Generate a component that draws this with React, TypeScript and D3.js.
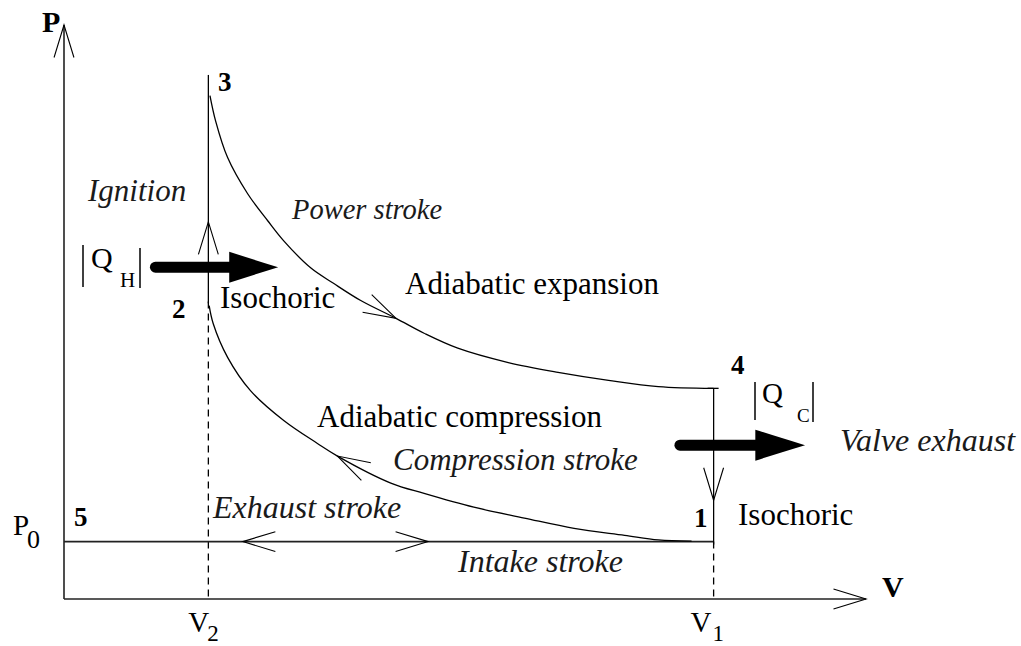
import React from "react";
import * as d3 from "d3";

const W = 1021;
const H = 646;

// Cycle state values (arbitrary units, 0–100 on both axes)
const V2 = 18;
const V1 = 81;
const P0 = 10;
const P3_TOP = 91.3;
const P2 = 51.5;
const P4 = 36.7;

// Adiabatic expansion 3 -> 4
const expansionV = [18.2, 18.9, 20.4, 22.9, 25.4, 27.4, 30.75, 33.6, 37.0, 41.4, 44.9, 49.1, 55.4, 61.6, 67.9, 74.1, 81];
const expansionP = [87.7, 83.3, 76.9, 70.6, 65.9, 62.4, 57.7, 55.0, 52.0, 48.9, 46.3, 43.7, 41.2, 39.5, 38.1, 37.0, 36.7];

// Adiabatic compression 1 -> 2
const compressionV = [18.1, 18.6, 20.4, 23.25, 27.4, 31.6, 34.1, 40.75, 44.9, 51.1, 57.4, 63.6, 69.9, 74.1, 78.25];
const compressionP = [51.1, 48.0, 42.1, 36.3, 31.1, 27.1, 24.9, 20.2, 18.4, 16.0, 14.1, 12.3, 11.1, 10.3, 10.1];

// Arrow positions along straight segments
const ARROW_23_P = 65.7;
const ARROW_41_P = 17.2;
const EXHAUST_ARROW_V = 22.3;
const INTAKE_ARROW_V = 45.4;

const SERIF = "Liberation Serif";

function openArrow(tx: number, ty: number, ang: number, len = 34, half = (17 * Math.PI) / 180) {
  const a1 = ang + Math.PI - half;
  const a2 = ang + Math.PI + half;
  const x1 = tx + len * Math.cos(a1);
  const y1 = ty + len * Math.sin(a1);
  const x2 = tx + len * Math.cos(a2);
  const y2 = ty + len * Math.sin(a2);
  return `M${x1},${y1}L${tx},${ty}L${x2},${y2}`;
}

type TP = { x: number; y: number; size: number; children: React.ReactNode; weight?: number; italic?: boolean; fill?: string };
function T({ x, y, size, children, weight, italic, fill }: TP) {
  return (
    <text
      x={x}
      y={y}
      fontFamily={SERIF}
      fontSize={size}
      fontWeight={weight || 400}
      fontStyle={italic ? "italic" : "normal"}
      fill={fill || "#000"}
    >
      {children}
    </text>
  );
}

export default function App() {
  const x = d3.scaleLinear().domain([0, 100]).range([64, 866]);
  const y = d3.scaleLinear().domain([0, 100]).range([599, 25]);

  const line = d3
    .line<[number, number]>()
    .x((d) => x(d[0]))
    .y((d) => y(d[1]))
    .curve(d3.curveCatmullRom.alpha(0.5));

  const expPts: [number, number][] = expansionV.map((v, i) => [v, expansionP[i]]);
  const cmpPts: [number, number][] = compressionV.map((v, i) => [v, compressionP[i]]);

  const ei = 9;
  const eAng = Math.atan2(
    y(expansionP[ei + 1]) - y(expansionP[ei - 1]),
    x(expansionV[ei + 1]) - x(expansionV[ei - 1])
  );
  const ci = 6;
  const cAng = Math.atan2(
    y(compressionP[ci - 1]) - y(compressionP[ci + 1]),
    x(compressionV[ci - 1]) - x(compressionV[ci + 1])
  );

  const RG = 31; // regular size
  const BD = 27; // bold numbers
  const itFill = "#1a1a1a";

  const heatArrow = (v0: number, vHead: number, vTip: number, p: number) => {
    const yy = y(p);
    return (
      <g>
        <line x1={x(v0)} y1={yy} x2={x(vHead) + 4} y2={yy} stroke="#000" strokeWidth={11} strokeLinecap="round" />
        <path
          d={`M${x(vHead)},${yy - 15.5} Q${x(vHead) + 20},${yy - 9} ${x(vTip)},${yy} Q${x(vHead) + 20},${yy + 9} ${x(vHead)},${yy + 15.5} Z`}
          fill="#000"
        />
      </g>
    );
  };

  return (
    <svg
      width={W}
      height={H}
      viewBox={`0 0 ${W} ${H}`}
      style={{ position: "absolute", left: 0, top: 0, background: "#fff" }}
    >
      <rect x={0} y={0} width={W} height={H} fill="#fff" />

      {/* axes */}
      <line x1={x(0)} y1={y(0)} x2={x(0)} y2={y(100)} stroke="#222" strokeWidth={1.6} />
      <line x1={x(0)} y1={y(0)} x2={x(100)} y2={y(0)} stroke="#222" strokeWidth={1.6} />
      <path d={openArrow(x(0), y(100), -Math.PI / 2)} fill="none" stroke="#000" strokeWidth={1.1} />
      <path d={openArrow(x(100), y(0), 0)} fill="none" stroke="#000" strokeWidth={1.1} />

      {/* dashed volume guides */}
      <line x1={x(V2)} y1={y(P2) - 2} x2={x(V2)} y2={y(0)} stroke="#000" strokeWidth={1.3} strokeDasharray="7,5" />
      <line x1={x(V1)} y1={y(P0)} x2={x(V1)} y2={y(0)} stroke="#000" strokeWidth={1.3} strokeDasharray="7,5" />

      {/* P0 line (intake / exhaust) */}
      <line x1={x(0)} y1={y(P0)} x2={x(V1)} y2={y(P0)} stroke="#222" strokeWidth={1.6} />
      <path d={openArrow(x(EXHAUST_ARROW_V), y(P0), Math.PI)} fill="none" stroke="#000" strokeWidth={1.1} />
      <path d={openArrow(x(INTAKE_ARROW_V), y(P0), 0)} fill="none" stroke="#000" strokeWidth={1.1} />

      {/* isochoric 2 -> 3 */}
      <line x1={x(V2)} y1={y(P3_TOP)} x2={x(V2)} y2={y(P2)} stroke="#000" strokeWidth={1.3} />
      <path d={openArrow(x(V2), y(ARROW_23_P), -Math.PI / 2)} fill="none" stroke="#000" strokeWidth={1.1} />

      {/* isochoric 4 -> 1 */}
      <line x1={x(V1)} y1={y(P4)} x2={x(V1)} y2={y(P0) + 3} stroke="#000" strokeWidth={1.3} />
      <line x1={x(V1) - 6} y1={y(P4)} x2={x(V1) + 5} y2={y(P4)} stroke="#000" strokeWidth={1.3} />
      <path d={openArrow(x(V1), y(ARROW_41_P), Math.PI / 2)} fill="none" stroke="#000" strokeWidth={1.1} />

      {/* adiabats */}
      <path d={line(expPts) || ""} fill="none" stroke="#000" strokeWidth={1.3} />
      <path d={line(cmpPts) || ""} fill="none" stroke="#000" strokeWidth={1.3} />
      <path d={openArrow(x(expansionV[ei]), y(expansionP[ei]), eAng)} fill="none" stroke="#000" strokeWidth={1.1} />
      <path d={openArrow(x(compressionV[ci]), y(compressionP[ci]), cAng)} fill="none" stroke="#000" strokeWidth={1.1} />

      {/* heat arrows */}
      {heatArrow(11.4, 20.6, 26.7, 57.8)}
      {heatArrow(76.8, 86.2, 92.4, 26.8)}

      {/* |Q_H| */}
      <line x1={83} y1={245} x2={83} y2={287} stroke="#000" strokeWidth={1.5} />
      <line x1={140} y1={248} x2={140} y2={288} stroke="#000" strokeWidth={1.5} />
      <T x={91} y={268} size={30}>Q</T>
      <T x={120} y={287} size={21}>H</T>

      {/* |Q_C| */}
      <line x1={755} y1={382} x2={755} y2={420} stroke="#000" strokeWidth={1.5} />
      <line x1={813} y1={382} x2={813} y2={422} stroke="#000" strokeWidth={1.5} />
      <T x={762} y={403} size={29}>Q</T>
      <T x={797} y={422} size={19}>C</T>

      {/* axis labels */}
      <T x={42} y={32} size={30} weight={700}>P</T>
      <T x={882} y={597} size={30} weight={700}>V</T>
      <T x={13} y={535} size={29}>P</T>
      <T x={27} y={548} size={26}>0</T>
      <T x={x(V2) - 20} y={632} size={29}>V</T>
      <T x={x(V2) - 1} y={641} size={23}>2</T>
      <T x={x(V1) - 23} y={632} size={29}>V</T>
      <T x={x(V1) - 1} y={641} size={23}>1</T>

      {/* state numbers */}
      <T x={218} y={91} size={BD} weight={700}>3</T>
      <T x={172} y={318} size={BD} weight={700}>2</T>
      <T x={731} y={374} size={BD} weight={700}>4</T>
      <T x={694} y={527} size={BD} weight={700}>1</T>
      <T x={74} y={526} size={BD} weight={700}>5</T>

      {/* process labels */}
      <T x={88} y={201} size={31} italic fill={itFill}>Ignition</T>
      <T x={292} y={219} size={28.5} italic fill={itFill}>Power stroke</T>
      <T x={405} y={294} size={RG}>Adiabatic expansion</T>
      <T x={220} y={308} size={RG}>Isochoric</T>
      <T x={317} y={427} size={RG}>Adiabatic compression</T>
      <T x={393} y={470} size={31} italic fill={itFill}>Compression stroke</T>
      <T x={213} y={518} size={32} italic fill={itFill}>Exhaust stroke</T>
      <T x={458} y={572} size={32} italic fill={itFill}>Intake stroke</T>
      <T x={840} y={451} size={32} italic fill={itFill}>Valve exhaust</T>
      <T x={738} y={525} size={RG}>Isochoric</T>
    </svg>
  );
}
